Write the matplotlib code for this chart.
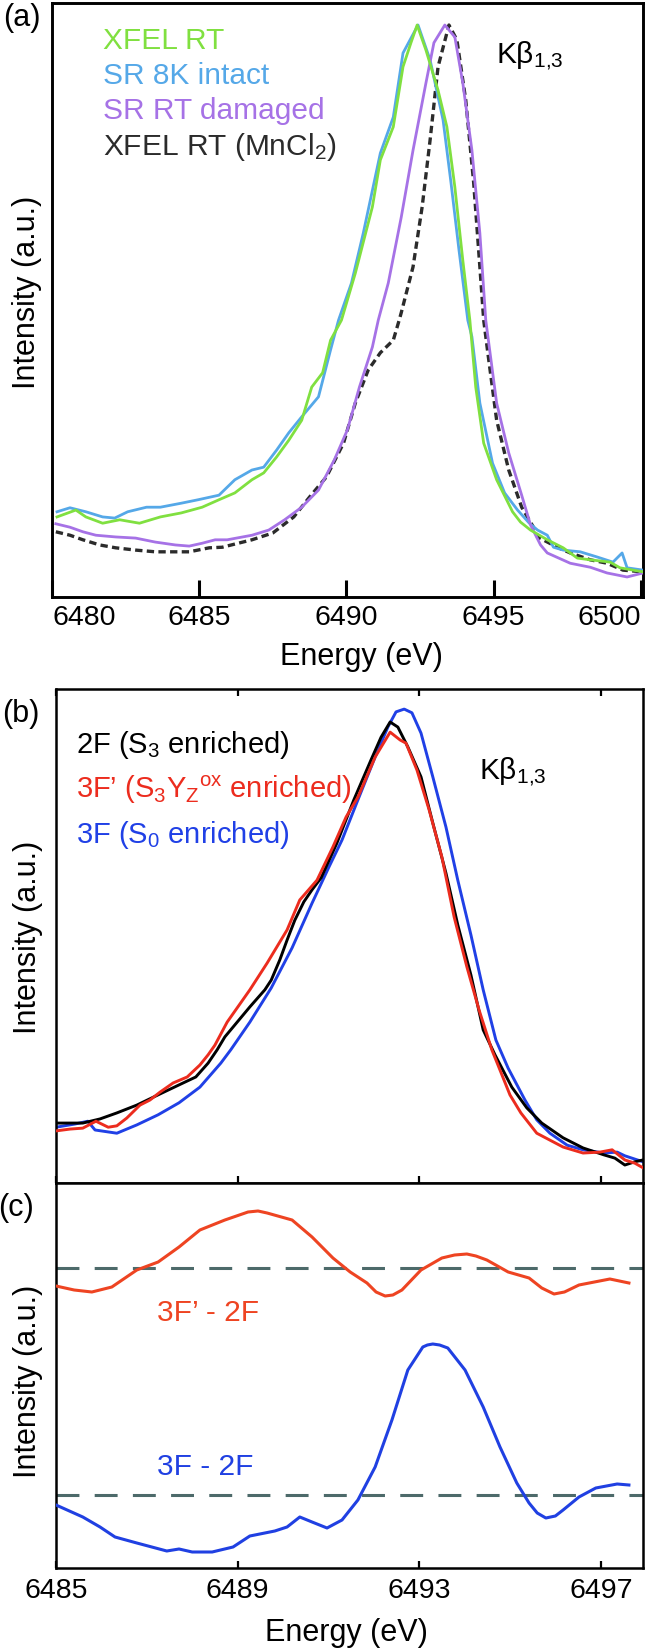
import matplotlib
matplotlib.use('Agg')
import matplotlib.pyplot as plt

plt.rcParams['font.family'] = ['Liberation Sans', 'DejaVu Sans']
plt.rcParams['mathtext.fontset'] = 'custom'
plt.rcParams['mathtext.rm'] = 'Liberation Sans'
plt.rcParams['mathtext.it'] = 'Liberation Sans:italic'
plt.rcParams['mathtext.bf'] = 'Liberation Sans:bold'

# ---------------- Panel (a) data ----------------
a_ticks = [6480, 6485, 6490, 6495, 6500]

a_xfel_E = [6480.17, 6480.81, 6481.15, 6481.72, 6482.30, 6482.97, 6483.68, 6484.39, 6485.10, 6485.67,
            6486.21, 6486.79, 6487.19, 6487.63, 6488.04, 6488.48, 6488.82, 6489.19, 6489.46, 6489.83,
            6490.30, 6490.88, 6491.15, 6491.59, 6491.92, 6492.19, 6492.40, 6492.70, 6493.11, 6493.41,
            6493.68, 6493.95, 6494.19, 6494.39, 6494.66, 6495.10, 6495.64, 6495.91, 6496.25, 6496.82,
            6497.36, 6497.84, 6498.28, 6498.95, 6499.29, 6499.73, 6500.07]
a_xfel_I = [0.140, 0.152, 0.140, 0.129, 0.135, 0.129, 0.140, 0.147, 0.157, 0.170,
            0.182, 0.205, 0.217, 0.245, 0.274, 0.309, 0.367, 0.392, 0.449, 0.484,
            0.566, 0.682, 0.764, 0.822, 0.927, 0.969, 1.000, 0.956, 0.886, 0.822,
            0.717, 0.589, 0.484, 0.367, 0.269, 0.205, 0.149, 0.131, 0.117, 0.100,
            0.086, 0.068, 0.065, 0.061, 0.051, 0.047, 0.044]

a_sr8k_E = [6480.17, 6480.61, 6481.15, 6481.72, 6482.13, 6482.57, 6483.21, 6483.68, 6484.39, 6484.96,
            6485.67, 6486.21, 6486.79, 6487.19, 6487.63, 6488.04, 6488.48, 6489.05, 6489.46, 6489.73,
            6490.17, 6490.57, 6491.15, 6491.59, 6491.92, 6492.43, 6492.84, 6493.28, 6493.55, 6493.82,
            6494.12, 6494.26, 6494.53, 6494.96, 6495.37, 6495.81, 6496.21, 6496.49, 6496.82, 6497.03,
            6497.36, 6497.94, 6498.51, 6499.05, 6499.36, 6499.53, 6500.07]
a_sr8k_I = [0.149, 0.156, 0.149, 0.140, 0.138, 0.149, 0.157, 0.157, 0.164, 0.170,
            0.178, 0.205, 0.222, 0.227, 0.257, 0.287, 0.315, 0.350, 0.432, 0.484,
            0.549, 0.636, 0.776, 0.839, 0.951, 1.000, 0.939, 0.834, 0.724, 0.607,
            0.484, 0.455, 0.339, 0.234, 0.182, 0.152, 0.129, 0.117, 0.108, 0.087,
            0.082, 0.079, 0.070, 0.061, 0.077, 0.051, 0.047]

a_srrt_E = [6480.13, 6480.61, 6481.05, 6481.49, 6482.16, 6482.84, 6483.51, 6484.19, 6484.66, 6485.10,
            6485.54, 6485.95, 6486.79, 6487.36, 6487.90, 6488.48, 6489.05, 6489.59, 6490.03, 6490.44,
            6490.88, 6491.08, 6491.42, 6491.86, 6492.26, 6492.70, 6492.97, 6493.34, 6493.68, 6493.95,
            6494.26, 6494.53, 6494.73, 6495.10, 6495.51, 6495.95, 6496.25, 6496.59, 6496.82, 6497.60,
            6498.28, 6498.85, 6499.53, 6500.07]
a_srrt_I = [0.128, 0.122, 0.114, 0.108, 0.105, 0.103, 0.096, 0.091, 0.089, 0.094,
            0.100, 0.100, 0.108, 0.117, 0.135, 0.157, 0.187, 0.240, 0.292, 0.367,
            0.437, 0.484, 0.549, 0.664, 0.781, 0.899, 0.969, 1.000, 0.979, 0.899,
            0.781, 0.636, 0.484, 0.339, 0.252, 0.178, 0.126, 0.091, 0.077, 0.059,
            0.052, 0.042, 0.035, 0.042]

a_mncl_E = [6480.13, 6480.61, 6481.05, 6481.62, 6482.16, 6482.84, 6483.51, 6484.19, 6484.66, 6485.34,
            6485.78, 6486.79, 6487.50, 6488.21, 6488.75, 6489.32, 6489.90, 6490.30, 6490.74, 6491.15,
            6491.59, 6491.79, 6491.86, 6492.26, 6492.57, 6492.84, 6493.11, 6493.48, 6493.75, 6494.05,
            6494.32, 6494.53, 6494.66, 6494.80, 6495.10, 6495.51, 6495.95, 6496.35, 6496.49, 6497.16,
            6497.60, 6498.28, 6498.85, 6499.39, 6500.07]
a_mncl_I = [0.114, 0.108, 0.100, 0.091, 0.086, 0.082, 0.079, 0.079, 0.079, 0.086,
            0.087, 0.100, 0.112, 0.140, 0.175, 0.210, 0.269, 0.339, 0.397, 0.427,
            0.449, 0.484, 0.497, 0.577, 0.682, 0.799, 0.927, 1.000, 0.974, 0.869,
            0.724, 0.577, 0.484, 0.427, 0.309, 0.222, 0.157, 0.122, 0.105, 0.087,
            0.077, 0.065, 0.059, 0.047, 0.044]

# ---------------- Panel (b) data ----------------
bc_ticks = [6485, 6489, 6493, 6497]

b_2f_E = [6485.00, 6485.31, 6485.59, 6485.97, 6486.34, 6486.78, 6487.33, 6487.80, 6488.08, 6488.35,
          6488.55, 6488.72, 6488.94, 6489.27, 6489.60, 6489.74, 6489.93, 6490.09, 6490.26, 6490.46,
          6490.64, 6490.84, 6491.19, 6491.56, 6491.94, 6492.16, 6492.36, 6492.53, 6492.75, 6493.04,
          6493.30, 6493.59, 6493.85, 6494.14, 6494.41, 6494.67, 6495.04, 6495.37, 6495.70, 6496.17,
          6496.61, 6497.07, 6497.31, 6497.53, 6497.75, 6497.93]
b_2f_I = [0.130, 0.130, 0.130, 0.139, 0.152, 0.169, 0.195, 0.217, 0.230, 0.260,
          0.289, 0.317, 0.343, 0.382, 0.419, 0.440, 0.484, 0.527, 0.570, 0.610,
          0.636, 0.662, 0.738, 0.831, 0.918, 0.967, 1.000, 0.989, 0.946, 0.881,
          0.781, 0.672, 0.560, 0.451, 0.332, 0.278, 0.208, 0.163, 0.130, 0.098,
          0.076, 0.061, 0.054, 0.039, 0.046, 0.050]

b_3fp_E = [6485.00, 6485.31, 6485.59, 6485.88, 6486.15, 6486.34, 6486.56, 6486.85, 6487.07, 6487.29,
           6487.58, 6487.89, 6488.17, 6488.35, 6488.50, 6488.77, 6489.27, 6489.65, 6490.09, 6490.37,
           6490.75, 6491.10, 6491.39, 6491.65, 6492.03, 6492.36, 6492.58, 6492.71, 6492.95, 6493.22,
           6493.50, 6493.77, 6494.05, 6494.32, 6494.60, 6494.78, 6495.00, 6495.24, 6495.59, 6496.17,
           6496.61, 6496.98, 6497.25, 6497.53, 6497.75, 6497.93]
b_3fp_I = [0.113, 0.117, 0.119, 0.134, 0.121, 0.124, 0.141, 0.169, 0.180, 0.197,
           0.217, 0.230, 0.256, 0.278, 0.299, 0.349, 0.419, 0.477, 0.549, 0.614,
           0.657, 0.729, 0.794, 0.837, 0.924, 0.978, 0.961, 0.954, 0.896, 0.809,
           0.707, 0.577, 0.469, 0.375, 0.289, 0.245, 0.191, 0.152, 0.108, 0.078,
           0.065, 0.067, 0.072, 0.050, 0.043, 0.033]

b_3f_E = [6485.00, 6485.42, 6485.70, 6485.86, 6486.34, 6486.78, 6487.25, 6487.71, 6488.17, 6488.63,
          6488.85, 6489.27, 6489.74, 6490.20, 6490.64, 6491.01, 6491.30, 6491.65, 6492.03, 6492.31,
          6492.49, 6492.67, 6492.84, 6493.04, 6493.30, 6493.59, 6493.85, 6494.14, 6494.41, 6494.69,
          6494.96, 6495.33, 6495.59, 6495.88, 6496.26, 6496.61, 6497.07, 6497.36, 6497.53, 6497.93]
b_3f_I = [0.121, 0.128, 0.134, 0.115, 0.108, 0.126, 0.148, 0.174, 0.208, 0.260,
          0.289, 0.349, 0.423, 0.510, 0.607, 0.685, 0.744, 0.831, 0.924, 0.989,
          1.022, 1.028, 1.020, 0.976, 0.881, 0.772, 0.657, 0.538, 0.419, 0.310,
          0.249, 0.180, 0.137, 0.108, 0.082, 0.072, 0.065, 0.067, 0.059, 0.046]

# ---------------- Panel (c) data (difference spectra) ----------------
c_3fp_E = [6485.00, 6485.40, 6485.79, 6486.23, 6486.78, 6487.25, 6487.71, 6488.17, 6488.72, 6489.23,
           6489.45, 6489.65, 6490.20, 6490.64, 6491.10, 6491.48, 6491.85, 6492.05, 6492.25, 6492.42,
           6492.62, 6493.04, 6493.50, 6493.78, 6494.05, 6494.25, 6494.49, 6494.96, 6495.42, 6495.70,
           6495.97, 6496.20, 6496.52, 6497.20, 6497.62]
c_3fp_D = [-0.18, -0.22, -0.24, -0.19, -0.02, 0.06, 0.21, 0.38, 0.48, 0.56,
           0.57, 0.55, 0.48, 0.31, 0.10, -0.04, -0.15, -0.24, -0.28, -0.27,
           -0.22, -0.02, 0.10, 0.13, 0.14, 0.12, 0.08, -0.04, -0.10, -0.20,
           -0.26, -0.24, -0.17, -0.11, -0.15]

c_3f_E = [6485.00, 6485.59, 6485.97, 6486.30, 6486.78, 6487.44, 6487.71, 6488.00, 6488.44, 6488.90,
          6489.27, 6489.82, 6490.09, 6490.37, 6490.64, 6490.97, 6491.30, 6491.65, 6492.03, 6492.40,
          6492.75, 6493.08, 6493.18, 6493.30, 6493.45, 6493.63, 6494.01, 6494.41, 6494.78, 6495.15,
          6495.42, 6495.60, 6495.79, 6496.00, 6496.17, 6496.52, 6496.89, 6497.36, 6497.62]
c_3f_D = [-0.10, -0.22, -0.32, -0.42, -0.48, -0.56, -0.54, -0.57, -0.57, -0.52,
          -0.41, -0.36, -0.32, -0.22, -0.27, -0.33, -0.25, -0.05, 0.28, 0.75,
          1.25, 1.48, 1.50, 1.51, 1.50, 1.47, 1.25, 0.88, 0.48, 0.12,
          -0.08, -0.18, -0.23, -0.21, -0.15, -0.02, 0.07, 0.11, 0.10]
c_offset_3fp = 2.27
c_offset_3f = 0.0

# ---------------- Figure ----------------
W, H = 650, 1652
fig = plt.figure(figsize=(W / 100, H / 100), dpi=100)


def rect(l, t, r, b):
    return [l / W, 1 - b / H, (r - l) / W, (b - t) / H]


def ftext(x, y, s, **kw):
    fig.text(x / W, 1 - y / H, s, **kw)


FS_TICK = 20.5
FS_LAB = 22
FS_LEG = 21.5

# colours
C_GREEN = '#80E040'
C_LBLUE = '#55A8E8'
C_PURP = '#A672E6'
C_DARK = '#2B2B2B'
C_BLACK = '#000000'
C_RED = '#EC2C1E'
C_BLUE = '#2040E6'
C_RED_C = '#EE4422'
C_BLUE_C = '#2040E2'
C_DASH = '#4D6A6A'

# ---- Panel (a)
axa = fig.add_axes(rect(52, 3, 643, 597))
axa.plot(a_xfel_E, a_xfel_I, color=C_GREEN, lw=2.0, zorder=4)
axa.plot(a_sr8k_E, a_sr8k_I, color=C_LBLUE, lw=2.0, zorder=3)
axa.plot(a_srrt_E, a_srrt_I, color=C_PURP, lw=2.0, zorder=3)
axa.plot(a_mncl_E, a_mncl_I, color=C_DARK, lw=2.4, ls=(0, (2.2, 1.3)), zorder=2)
axa.set_xlim(6480.1, 6500.07)
axa.set_ylim(0, 1.0385)
axa.set_xticks(a_ticks)
axa.set_xticklabels([str(t) for t in a_ticks], fontsize=FS_TICK)
axa.set_yticks([])
axa.tick_params(axis='x', direction='in', length=12, width=2.2, pad=6, top=False)
labs = axa.get_xticklabels()
labs[0].set_horizontalalignment('left')
labs[-1].set_horizontalalignment('right')
for s in axa.spines.values():
    s.set_linewidth(2.1)

# ---- Panel (b)
axb = fig.add_axes(rect(56, 689, 643, 1183))
axb.plot(b_3f_E, b_3f_I, color=C_BLUE, lw=2.1, zorder=2)
axb.plot(b_2f_E, b_2f_I, color=C_BLACK, lw=2.1, zorder=3)
axb.plot(b_3fp_E, b_3fp_I, color=C_RED, lw=2.1, zorder=4)
axb.set_xlim(6485.0, 6497.93)
axb.set_ylim(0, 1.0716)
axb.set_xticks(bc_ticks)
axb.set_xticklabels([])
axb.set_yticks([])
axb.tick_params(axis='x', direction='in', length=5, width=1.6, top=True, bottom=True)
for s in axb.spines.values():
    s.set_linewidth(1.8)

# ---- Panel (c)
axc = fig.add_axes(rect(56, 1183, 643, 1568))
axc.axhline(c_offset_3fp, color=C_DASH, lw=2.2, ls=(0, (7.5, 5)), zorder=1)
axc.axhline(c_offset_3f, color=C_DASH, lw=2.2, ls=(0, (7.5, 5)), zorder=1)
axc.plot(c_3fp_E, [d + c_offset_3fp for d in c_3fp_D], color=C_RED_C, lw=2.2, zorder=3,
         solid_joinstyle='round')
axc.plot(c_3f_E, [d + c_offset_3f for d in c_3f_D], color=C_BLUE_C, lw=2.2, zorder=3,
         solid_joinstyle='round')
axc.set_xlim(6485.0, 6497.93)
axc.set_ylim(-0.73, 3.12)
axc.set_xticks(bc_ticks)
axc.set_xticklabels([str(t) for t in bc_ticks], fontsize=FS_TICK)
axc.set_yticks([])
axc.tick_params(axis='x', direction='in', length=5, width=1.6, pad=7, top=False)
for s in axc.spines.values():
    s.set_linewidth(1.8)

# ---- texts
ftext(22, 18, '(a)', fontsize=FS_LAB, ha='center', va='center')
ftext(21, 714, '(b)', fontsize=FS_LAB, ha='center', va='center')
ftext(16, 1208, '(c)', fontsize=FS_LAB, ha='center', va='center')

ftext(27, 292, 'Intensity (a.u.)', fontsize=FS_LAB, rotation=90, ha='center', va='center')
ftext(28, 937, 'Intensity (a.u.)', fontsize=FS_LAB, rotation=90, ha='center', va='center')
ftext(28, 1381, 'Intensity (a.u.)', fontsize=FS_LAB, rotation=90, ha='center', va='center')

ftext(361, 657, 'Energy (eV)', fontsize=FS_LAB, ha='center', va='center')
ftext(346, 1633, 'Energy (eV)', fontsize=FS_LAB, ha='center', va='center')

ftext(103, 41, 'XFEL RT', fontsize=FS_LEG, color=C_GREEN, ha='left', va='center')
ftext(103, 76, 'SR 8K intact', fontsize=FS_LEG, color=C_LBLUE, ha='left', va='center')
ftext(103, 111, 'SR RT damaged', fontsize=FS_LEG, color=C_PURP, ha='left', va='center')
ftext(103, 147, r'XFEL RT (MnCl$\mathregular{_2}$)', fontsize=FS_LEG, color=C_DARK,
      ha='left', va='center')
ftext(496, 55, r'K$\mathregular{\beta_{1{,}3}}$', fontsize=FS_LEG, ha='left', va='center')

ftext(76, 745, r'2F (S$\mathregular{_3}$ enriched)', fontsize=21, color=C_BLACK,
      ha='left', va='center')
ftext(76, 790, r'3F’ (S$\mathregular{_3}$Y$\mathregular{_Z}$$\mathregular{^{ox}}$ enriched)',
      fontsize=21, color=C_RED, ha='left', va='center')
ftext(76, 835, r'3F (S$\mathregular{_0}$ enriched)', fontsize=21, color=C_BLUE,
      ha='left', va='center')
ftext(479, 772, r'K$\mathregular{\beta_{1{,}3}}$', fontsize=FS_LEG, ha='left', va='center')

ftext(157, 1313, '3F’ - 2F', fontsize=FS_LEG, color=C_RED_C, ha='left', va='center')
ftext(157, 1467, '3F - 2F', fontsize=FS_LEG, color=C_BLUE_C, ha='left', va='center')

fig.savefig('out.png', dpi=100)
